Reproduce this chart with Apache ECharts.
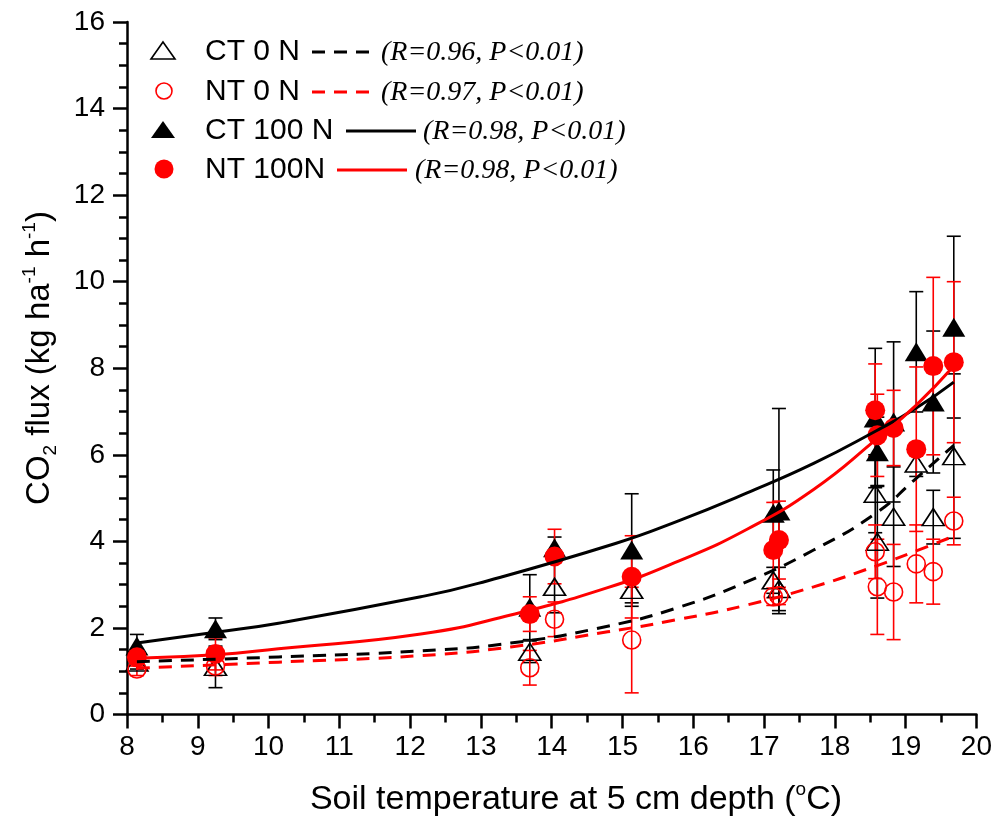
<!DOCTYPE html>
<html>
<head>
<meta charset="utf-8">
<script src="https://cdn.jsdelivr.net/npm/echarts@6/dist/echarts.min.js"></script>
<style>
  html, body { margin: 0; padding: 0; background: #fff; }
  #chart { width: 995px; height: 820px; }
</style>
</head>
<body>
<div id="chart"></div>
<script>
// Soil temperature at 5 cm depth (°C), one entry per sampling date
const temps = [8.14, 9.25, 13.69, 14.04, 15.13, 17.13, 17.21, 18.57, 18.60, 18.83, 19.15, 19.39, 19.68];

// Mean CO2 flux (kg ha-1 h-1) and standard deviation for each treatment
const ct0Mean   = [1.20, 1.10, 1.45, 2.95, 2.88, 3.10, 2.90, 5.10, 3.99, 4.57, 5.80, 4.56, 5.97];
const ct0Sd     = [0.15, 0.48, 0.25, 0.60, 0.30, 0.30, 0.50, 0.90, 1.30, 1.15, 0.30, 0.62, 1.90];
const nt0Mean   = [1.05, 1.12, 1.08, 2.20, 1.72, 2.72, 2.74, 3.76, 2.95, 2.83, 3.48, 3.30, 4.47];
const nt0Sd     = [0.15, 0.22, 0.40, 0.40, 1.22, 0.20, 0.20, 0.62, 1.10, 1.10, 0.90, 0.75, 0.55];
const ct100Mean = [1.58, 1.98, 2.48, 3.85, 3.80, 4.65, 4.70, 6.85, 6.07, 6.76, 8.38, 7.22, 8.95];
const ct100Sd   = [0.27, 0.25, 0.75, 0.25, 1.30, 1.00, 2.37, 1.61, 0.80, 1.85, 1.39, 1.64, 2.10];
const nt100Mean = [1.32, 1.40, 2.32, 3.65, 3.18, 3.80, 4.03, 7.03, 6.45, 6.62, 6.13, 8.05, 8.14];
const nt100Sd   = [0.20, 0.37, 0.40, 0.63, 0.95, 1.10, 0.90, 1.07, 0.95, 0.87, 1.90, 2.05, 1.86];

// Fitted exponential response curves (temperature, flux)
const ct0FitX   = [8.14, 10.14, 12.15, 13.42, 14.79, 15.80, 16.76, 17.70, 18.58, 19.11, 19.68];
const ct0FitY   = [1.22, 1.33, 1.47, 1.65, 2.04, 2.48, 3.07, 3.80, 4.65, 5.40, 6.22];
const nt0FitX   = [8.14, 10.14, 12.15, 13.42, 14.79, 15.80, 16.76, 17.70, 18.58, 19.15, 19.68];
const nt0FitY   = [1.07, 1.21, 1.36, 1.56, 1.91, 2.20, 2.53, 2.95, 3.43, 3.78, 4.12];
const ct100FitX = [8.14, 9.25, 10.14, 12.15, 12.96, 14.90, 15.80, 16.76, 17.70, 18.58, 19.15, 19.68];
const ct100FitY = [1.65, 1.90, 2.11, 2.72, 3.03, 3.95, 4.48, 5.12, 5.80, 6.55, 7.08, 7.68];
const nt100FitX = [8.14, 9.25, 10.14, 12.15, 13.42, 14.79, 15.80, 16.76, 17.70, 18.58, 19.15, 19.68];
const nt100FitY = [1.30, 1.38, 1.52, 1.86, 2.30, 2.93, 3.55, 4.28, 5.20, 6.35, 7.15, 8.05];

// Legend rows: label and correlation statistics
const legendNames = ['CT 0 N', 'NT 0 N', 'CT 100 N', 'NT 100N'];
const legendStats = ['(R=0.96, P<0.01)', '(R=0.97, P<0.01)', '(R=0.98, P<0.01)', '(R=0.98, P<0.01)'];

const RED = '#ff0000';
const BLACK = '#000000';
const SANS = 'Liberation Sans, Arial, sans-serif';
const SERIF = 'Liberation Serif, Times New Roman, serif';

const pts = means => temps.map((t, i) => [t, means[i]]);
const bars = (means, sds) => temps.map((t, i) => [t, means[i] - sds[i], means[i] + sds[i]]);
const curve = (xs, ys) => xs.map((x, i) => [x, ys[i]]);

function errorBarSeries(means, sds, color, z) {
  return {
    type: 'custom',
    z: z,
    silent: true,
    data: bars(means, sds),
    renderItem: function (params, api) {
      const x = api.value(0);
      const lo = api.coord([x, api.value(1)]);
      const hi = api.coord([x, api.value(2)]);
      const cap = 7;
      const st = { stroke: color, lineWidth: 1.6 };
      return {
        type: 'group',
        children: [
          { type: 'line', shape: { x1: lo[0], y1: lo[1], x2: hi[0], y2: hi[1] }, style: st },
          { type: 'line', shape: { x1: hi[0] - cap, y1: hi[1], x2: hi[0] + cap, y2: hi[1] }, style: st },
          { type: 'line', shape: { x1: lo[0] - cap, y1: lo[1], x2: lo[0] + cap, y2: lo[1] }, style: st }
        ]
      };
    }
  };
}

function fitSeries(xs, ys, color, dashed) {
  return {
    type: 'line',
    z: 6,
    data: curve(xs, ys),
    smooth: 0.5,
    showSymbol: false,
    silent: true,
    lineStyle: { color: color, width: 3, type: dashed ? [13, 9] : 'solid' }
  };
}

const chart = echarts.init(document.getElementById('chart'), null, { renderer: 'canvas' });

// Hand-drawn legend block in the upper left of the plot
const legendRowsY = [52, 92, 131, 170];
const lineStart = [312, 312, 346, 337];
const lineEnd   = [372, 372, 416, 407];
const statX     = [381, 381, 423, 415];
const legendGraphics = [];
legendRowsY.forEach((y, i) => {
  if (i === 0 || i === 2) {
    legendGraphics.push({
      type: 'polygon',
      shape: { points: [[163, y - 10], [175, y + 7], [151, y + 7]] },
      style: i === 0 ? { fill: 'none', stroke: BLACK, lineWidth: 1.6 } : { fill: BLACK }
    });
  } else {
    legendGraphics.push({
      type: 'circle',
      shape: { cx: 164, cy: y - 1, r: i === 1 ? 8 : 9.5 },
      style: i === 1 ? { fill: 'none', stroke: RED, lineWidth: 1.6 } : { fill: RED }
    });
  }
  legendGraphics.push({
    type: 'text', x: 205, y: y,
    style: { text: legendNames[i], font: '30px ' + SANS, fill: BLACK, verticalAlign: 'middle', align: 'left' }
  });
  legendGraphics.push({
    type: 'line',
    shape: { x1: lineStart[i], y1: y, x2: lineEnd[i], y2: y },
    style: { stroke: i % 2 === 0 ? BLACK : RED, lineWidth: 3, lineDash: i < 2 ? [13, 9] : null }
  });
  legendGraphics.push({
    type: 'text', x: statX[i], y: y + 1,
    style: { text: legendStats[i], font: 'italic 28px ' + SERIF, fill: BLACK, verticalAlign: 'middle', align: 'left' }
  });
});

const option = {
  backgroundColor: '#ffffff',
  animation: false,
  grid: { left: 127, right: 15, top: 22, bottom: 105.5, containLabel: false },
  xAxis: {
    type: 'value', min: 8, max: 20, interval: 1,
    axisLine: { show: true, lineStyle: { color: BLACK, width: 2.5 } },
    axisTick: { show: true, length: 14, lineStyle: { color: BLACK, width: 2.5 } },
    minorTick: { show: true, splitNumber: 2, length: 8, lineStyle: { color: BLACK, width: 2.5 } },
    axisLabel: { fontSize: 28, fontFamily: SANS, color: BLACK, margin: 19 },
    splitLine: { show: false }
  },
  yAxis: {
    type: 'value', min: 0, max: 16, interval: 2,
    axisLine: { show: true, lineStyle: { color: BLACK, width: 2.5 } },
    axisTick: { show: true, length: 14, lineStyle: { color: BLACK, width: 2.5 } },
    minorTick: { show: true, splitNumber: 4, length: 8, lineStyle: { color: BLACK, width: 2.5 } },
    axisLabel: { fontSize: 28, fontFamily: SANS, color: BLACK, margin: 22 },
    splitLine: { show: false }
  },
  graphic: [
    {
      type: 'text', x: 576, y: 800,
      style: {
        text: '{n|Soil temperature at 5 cm depth (}{p|o}{n|C)}',
        align: 'center', verticalAlign: 'middle',
        rich: {
          n: { fontSize: 34, fontFamily: SANS, fill: BLACK, lineHeight: 40 },
          p: { fontSize: 19, fontFamily: SANS, fill: BLACK, verticalAlign: 'top', lineHeight: 40 }
        }
      }
    },
    {
      type: 'text', x: 40, y: 358, rotation: Math.PI / 2,
      style: {
        text: '{n|CO}{s|2}{n| flux (kg ha}{p|-1}{n| h}{p|-1}{n|)}',
        align: 'center', verticalAlign: 'middle',
        rich: {
          n: { fontSize: 33, fontFamily: SANS, fill: BLACK, lineHeight: 40 },
          s: { fontSize: 19, fontFamily: SANS, fill: BLACK, verticalAlign: 'bottom', lineHeight: 40 },
          p: { fontSize: 19, fontFamily: SANS, fill: BLACK, verticalAlign: 'top', lineHeight: 40 }
        }
      }
    }
  ].concat(legendGraphics),
  series: [
    errorBarSeries(ct0Mean, ct0Sd, BLACK, 1),
    errorBarSeries(nt0Mean, nt0Sd, RED, 1),
    errorBarSeries(ct100Mean, ct100Sd, BLACK, 1),
    errorBarSeries(nt100Mean, nt100Sd, RED, 1),
    {
      name: 'CT 0 N', type: 'scatter', z: 3, data: pts(ct0Mean),
      symbol: 'triangle', symbolSize: [22, 17],
      itemStyle: { color: 'rgba(0,0,0,0)', borderColor: BLACK, borderWidth: 1.6, opacity: 1 }
    },
    {
      name: 'NT 0 N', type: 'scatter', z: 3, data: pts(nt0Mean),
      symbol: 'circle', symbolSize: 18,
      itemStyle: { color: 'rgba(0,0,0,0)', borderColor: RED, borderWidth: 1.6, opacity: 1 }
    },
    {
      name: 'CT 100 N', type: 'scatter', z: 4, data: pts(ct100Mean),
      symbol: 'triangle', symbolSize: [23, 19],
      itemStyle: { color: BLACK, opacity: 1 }
    },
    {
      name: 'NT 100N', type: 'scatter', z: 5, data: pts(nt100Mean),
      symbol: 'circle', symbolSize: 20,
      itemStyle: { color: RED, opacity: 1 }
    },
    fitSeries(ct0FitX, ct0FitY, BLACK, true),
    fitSeries(nt0FitX, nt0FitY, RED, true),
    fitSeries(ct100FitX, ct100FitY, BLACK, false),
    fitSeries(nt100FitX, nt100FitY, RED, false)
  ]
};

chart.setOption(option);
</script>
</body>
</html>
